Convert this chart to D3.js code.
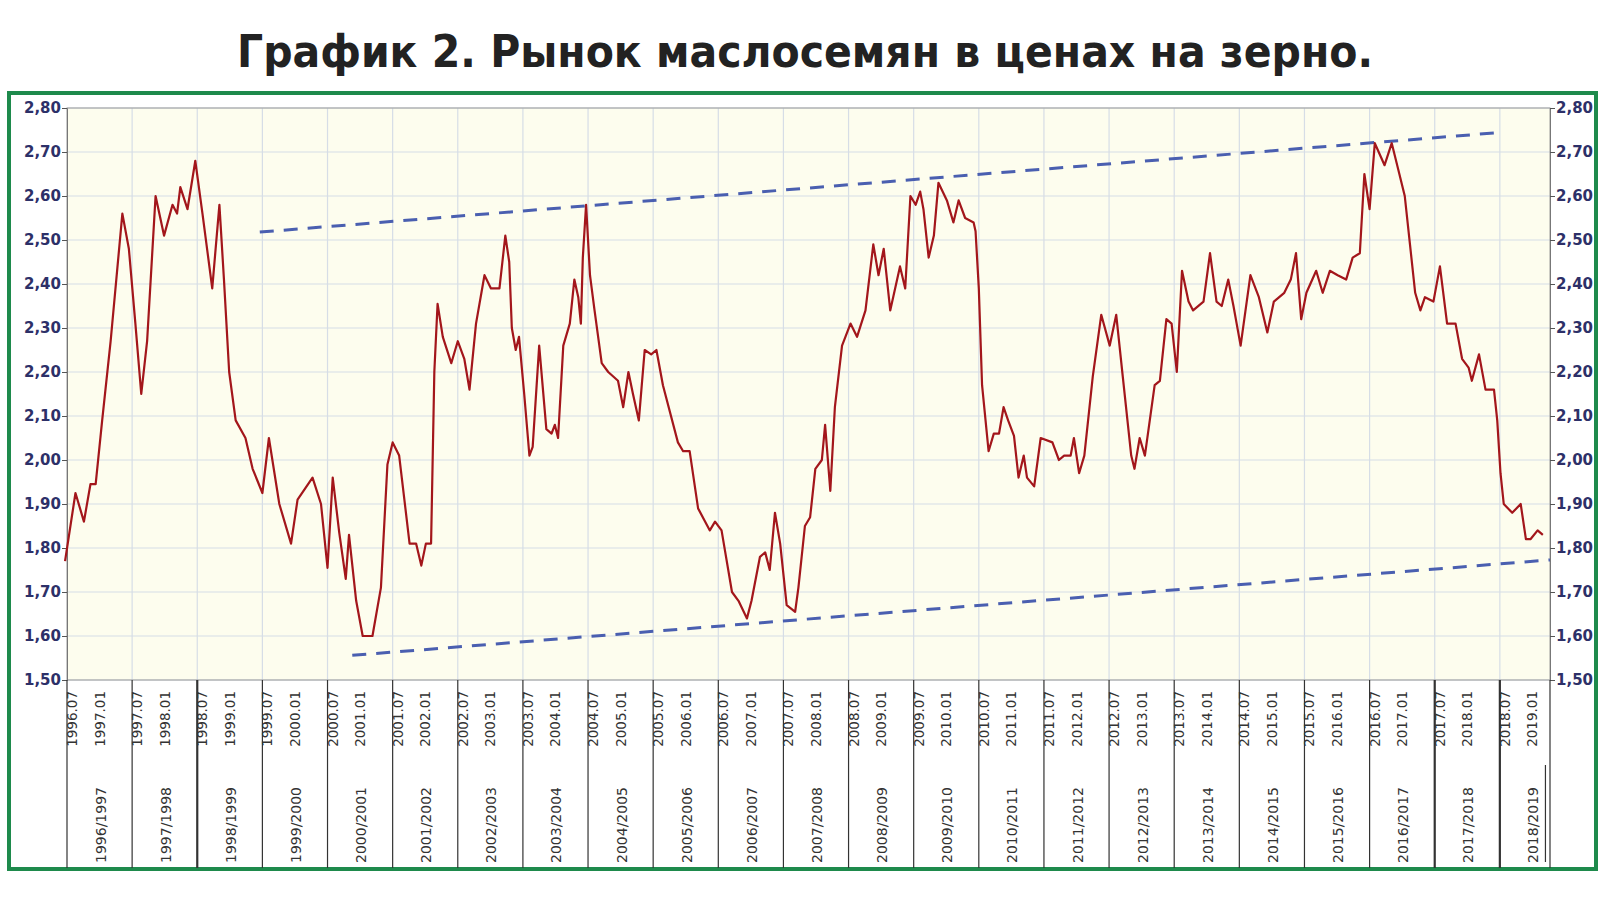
<!DOCTYPE html>
<html><head><meta charset="utf-8">
<script src="https://cdn.jsdelivr.net/npm/d3@7/dist/d3.min.js"></script>
<style>body{margin:0;background:#fff}svg{display:block}</style>
</head><body>
<script>
const title = "График 2. Рынок маслосемян в ценах на зерно.";
const dates = [1996.47,1996.63,1996.76,1996.86,1996.94,1997.04,1997.17,1997.35,1997.45,1997.55,1997.64,1997.73,1997.86,1997.99,1998.12,1998.19,1998.24,1998.35,1998.47,1998.58,1998.73,1998.84,1998.91,1998.99,1999.09,1999.24,1999.35,1999.50,1999.60,1999.76,1999.94,2000.04,2000.27,2000.40,2000.50,2000.58,2000.68,2000.78,2000.83,2000.94,2001.04,2001.19,2001.32,2001.42,2001.50,2001.60,2001.76,2001.86,2001.94,2002.01,2002.09,2002.14,2002.19,2002.27,2002.40,2002.50,2002.60,2002.68,2002.78,2002.91,2003.01,2003.14,2003.23,2003.29,2003.33,2003.39,2003.44,2003.52,2003.60,2003.65,2003.75,2003.86,2003.94,2003.99,2004.04,2004.12,2004.22,2004.29,2004.35,2004.39,2004.42,2004.47,2004.53,2004.60,2004.71,2004.81,2004.96,2005.04,2005.12,2005.19,2005.28,2005.37,2005.47,2005.55,2005.65,2005.88,2005.96,2006.06,2006.19,2006.37,2006.45,2006.55,2006.71,2006.81,2006.94,2007.01,2007.14,2007.22,2007.29,2007.37,2007.45,2007.55,2007.68,2007.73,2007.83,2007.91,2007.99,2008.09,2008.14,2008.22,2008.29,2008.40,2008.53,2008.63,2008.76,2008.88,2008.96,2009.04,2009.14,2009.29,2009.37,2009.45,2009.53,2009.60,2009.65,2009.73,2009.81,2009.88,2010.01,2010.11,2010.19,2010.29,2010.42,2010.45,2010.50,2010.55,2010.65,2010.73,2010.81,2010.88,2010.95,2011.04,2011.11,2011.19,2011.24,2011.35,2011.45,2011.63,2011.73,2011.81,2011.91,2011.96,2012.04,2012.12,2012.25,2012.38,2012.51,2012.61,2012.71,2012.84,2012.89,2012.97,2013.05,2013.20,2013.28,2013.38,2013.46,2013.54,2013.62,2013.72,2013.79,2013.95,2014.05,2014.15,2014.23,2014.33,2014.41,2014.52,2014.67,2014.80,2014.93,2015.03,2015.19,2015.29,2015.37,2015.45,2015.53,2015.68,2015.78,2015.89,2016.01,2016.14,2016.24,2016.35,2016.42,2016.50,2016.58,2016.73,2016.84,2016.94,2017.04,2017.12,2017.20,2017.28,2017.35,2017.48,2017.58,2017.69,2017.82,2017.92,2018.02,2018.07,2018.18,2018.28,2018.41,2018.46,2018.51,2018.56,2018.69,2018.82,2018.90,2018.97,2019.08,2019.16];
const values = [1.77,1.925,1.86,1.945,1.945,2.09,2.27,2.56,2.48,2.31,2.15,2.27,2.60,2.51,2.58,2.56,2.62,2.57,2.68,2.56,2.39,2.58,2.41,2.20,2.09,2.05,1.98,1.925,2.05,1.90,1.81,1.91,1.96,1.90,1.755,1.96,1.835,1.73,1.83,1.68,1.60,1.60,1.71,1.99,2.04,2.01,1.81,1.81,1.76,1.81,1.81,2.20,2.355,2.28,2.22,2.27,2.23,2.16,2.31,2.42,2.39,2.39,2.51,2.45,2.30,2.25,2.28,2.15,2.01,2.03,2.26,2.07,2.06,2.08,2.05,2.26,2.31,2.41,2.37,2.31,2.46,2.58,2.42,2.34,2.22,2.20,2.18,2.12,2.20,2.15,2.09,2.25,2.24,2.25,2.17,2.04,2.02,2.02,1.89,1.84,1.86,1.84,1.70,1.68,1.64,1.68,1.78,1.79,1.75,1.88,1.81,1.67,1.655,1.71,1.85,1.87,1.98,2.00,2.08,1.93,2.12,2.26,2.31,2.28,2.34,2.49,2.42,2.48,2.34,2.44,2.39,2.60,2.58,2.61,2.57,2.46,2.51,2.63,2.59,2.54,2.59,2.55,2.54,2.52,2.39,2.17,2.02,2.06,2.06,2.12,2.09,2.055,1.96,2.01,1.96,1.94,2.05,2.04,2.00,2.01,2.01,2.05,1.97,2.01,2.19,2.33,2.26,2.33,2.19,2.01,1.98,2.05,2.01,2.17,2.18,2.32,2.31,2.20,2.43,2.36,2.34,2.36,2.47,2.36,2.35,2.41,2.35,2.26,2.42,2.37,2.29,2.36,2.38,2.41,2.47,2.32,2.38,2.43,2.38,2.43,2.42,2.41,2.46,2.47,2.65,2.57,2.72,2.67,2.72,2.66,2.60,2.49,2.38,2.34,2.37,2.36,2.44,2.31,2.31,2.23,2.21,2.18,2.24,2.16,2.16,2.09,1.97,1.90,1.88,1.90,1.82,1.82,1.84,1.83];
const upperTrend = [[1999.46,2.518],[2018.56,2.745]];
const lowerTrend = [[2000.88,1.556],[2019.27,1.773]];
const yTicks = [1.5,1.6,1.7,1.8,1.9,2.0,2.1,2.2,2.3,2.4,2.5,2.6,2.7,2.8];
const seasonStarts = d3.range(1996,2019);

const W=1600,H=899;
const svg=d3.select("body").append("svg").attr("width",W).attr("height",H);
const x=d3.scaleLinear().domain([1996.5,2019.27]).range([67,1550]);
const y=d3.scaleLinear().domain([1.5,2.8]).range([680,108]);
const fmt=v=>v.toFixed(2).replace(".",",");

svg.append("text").attr("x",805).attr("y",67).attr("text-anchor","middle")
  .attr("font-family","DejaVu Sans").attr("font-weight","bold").attr("font-size",44)
  .attr("textLength",1136).attr("lengthAdjust","spacingAndGlyphs").attr("fill","#222").text(title);

svg.append("rect").attr("x",9).attr("y",93).attr("width",1587).attr("height",776)
  .attr("fill","#fff").attr("stroke","#1e8a4c").attr("stroke-width",4);

svg.append("rect").attr("x",x.range()[0]).attr("y",y(2.8)).attr("width",x.range()[1]-x.range()[0])
  .attr("height",y(1.5)-y(2.8)).attr("fill","#fdfdee");

const g=svg.append("g");
g.selectAll(".hg").data(yTicks).join("line").attr("x1",67).attr("x2",1550)
  .attr("y1",d=>y(d)).attr("y2",d=>y(d)).attr("stroke","#d6dde6").attr("stroke-width",1.2);
g.selectAll(".vg").data(seasonStarts.map(s=>s+0.5).filter(d=>d>1996.6)).join("line")
  .attr("x1",d=>x(d)).attr("x2",d=>x(d)).attr("y1",108).attr("y2",680).attr("stroke","#d6dde6").attr("stroke-width",1.2);

svg.append("rect").attr("x",67).attr("y",108).attr("width",1483).attr("height",572)
  .attr("fill","none").attr("stroke","#9a9a9a").attr("stroke-width",1);

const axL=svg.append("g").attr("transform","translate(67,0)").call(d3.axisLeft(y).tickValues(yTicks).tickFormat(fmt).tickSize(5));
const axR=svg.append("g").attr("transform","translate(1550,0)").call(d3.axisRight(y).tickValues(yTicks).tickFormat(fmt).tickSize(5));
[axL,axR].forEach(a=>{a.select(".domain").attr("stroke","#777");a.selectAll("line").attr("stroke","#555");
  a.selectAll("text").attr("font-family","Verdana, DejaVu Sans").attr("font-weight","bold").attr("font-size",15).attr("fill","#2d3068");});
axL.selectAll("text").attr("dx",2);axR.selectAll("text").attr("dx",-2);

const tr=d3.line().x(d=>x(d[0])).y(d=>y(d[1]));
[upperTrend,lowerTrend].forEach(t=>svg.append("path").attr("d",tr(t)).attr("fill","none")
  .attr("stroke","#4a5fb0").attr("stroke-width",3).attr("stroke-dasharray","14,10"));

const line=d3.line().x((d,i)=>x(dates[i])).y(d=>y(d));
svg.append("path").attr("d",line(values)).attr("fill","none").attr("stroke","#a3161b")
  .attr("stroke-width",2.2).attr("stroke-linejoin","round");

const sepYears=seasonStarts.map(s=>s+0.5).concat([2019.27]);
svg.selectAll(".sep").data(sepYears).join("line").attr("x1",d=>x(d)).attr("x2",d=>x(d))
  .attr("y1",680).attr("y2",868).attr("stroke","#333")
  .attr("stroke-width",d=>[1998.5,2017.5,2018.5].includes(d)?2.2:1.2);
svg.append("line").attr("x1",x(2019.2)).attr("x2",x(2019.2)).attr("y1",765).attr("y2",862).attr("stroke","#333").attr("stroke-width",1.2);

const halfTicks=[];
seasonStarts.forEach(s=>{halfTicks.push({t:s+0.5,l:s+".07"});halfTicks.push({t:s+1,l:(s+1)+".01"});});
svg.selectAll(".dl").data(halfTicks).join("text")
  .attr("transform",d=>`translate(${x(d.t)+(d.l.endsWith("07")?10:5)},691) rotate(-90)`)
  .attr("text-anchor","end").attr("font-family","Verdana, DejaVu Sans").attr("font-size",13.5).attr("fill","#333").text(d=>d.l);
svg.selectAll(".sl").data(seasonStarts).join("text")
  .attr("transform",d=>`translate(${x(d+1)+6},863) rotate(-90)`)
  .attr("text-anchor","start").attr("font-family","Verdana, DejaVu Sans").attr("font-size",14).attr("fill","#333")
  .text(d=>d+"/"+(d+1));
</script>
</body></html>
